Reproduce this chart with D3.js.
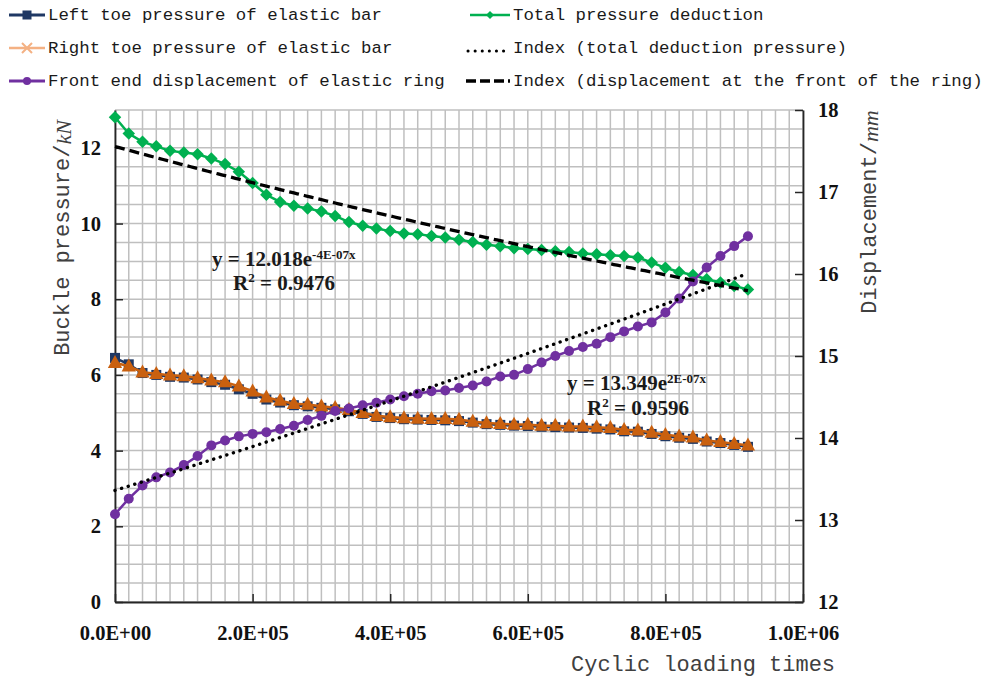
<!DOCTYPE html>
<html><head><meta charset="utf-8">
<script src="https://cdn.jsdelivr.net/npm/d3@7"></script>
<style>html,body{margin:0;padding:0;background:#fff;} svg{display:block;}</style>
</head><body>
<svg id="chart" width="983" height="681"></svg>
<script>
// ---------------- DATA ----------------
const cycles = [0,20000,40000,60000,80000,100000,120000,140000,160000,180000,
  200000,220000,240000,260000,280000,300000,320000,340000,360000,380000,
  400000,420000,440000,460000,480000,500000,520000,540000,560000,580000,
  600000,620000,640000,660000,680000,700000,720000,740000,760000,780000,
  800000,820000,840000,860000,880000,900000,920000];
const leftToe = [6.45,6.28,6.05,6.00,5.95,5.93,5.88,5.81,5.74,5.62,
  5.50,5.35,5.27,5.20,5.17,5.13,5.09,5.04,4.97,4.89,
  4.86,4.83,4.82,4.81,4.80,4.78,4.74,4.70,4.68,4.66,
  4.65,4.63,4.62,4.61,4.60,4.58,4.56,4.51,4.50,4.44,
  4.38,4.34,4.31,4.24,4.20,4.15,4.10];
const rightToe = [6.32,6.23,6.07,6.03,5.99,5.97,5.92,5.86,5.81,5.70,
  5.57,5.41,5.32,5.24,5.22,5.17,5.13,5.08,5.00,4.92,
  4.89,4.86,4.85,4.84,4.84,4.82,4.77,4.73,4.71,4.69,
  4.69,4.66,4.66,4.64,4.64,4.62,4.60,4.55,4.54,4.48,
  4.42,4.38,4.35,4.27,4.23,4.18,4.14];
const totalPressure = [12.81,12.38,12.16,12.04,11.92,11.88,11.83,11.72,11.57,11.37,
  11.07,10.76,10.57,10.47,10.40,10.32,10.20,10.04,9.94,9.87,
  9.80,9.74,9.72,9.67,9.63,9.57,9.51,9.44,9.40,9.35,
  9.33,9.30,9.27,9.25,9.21,9.19,9.16,9.14,9.10,8.97,
  8.83,8.72,8.64,8.53,8.44,8.35,8.26];
const displacement = [13.07,13.26,13.42,13.52,13.58,13.67,13.78,13.91,13.97,14.02,
  14.05,14.07,14.11,14.15,14.22,14.27,14.33,14.36,14.40,14.43,
  14.47,14.51,14.54,14.57,14.58,14.61,14.64,14.69,14.75,14.77,
  14.84,14.92,15.00,15.06,15.11,15.15,15.23,15.30,15.36,15.41,
  15.53,15.70,15.91,16.08,16.22,16.34,16.46];
const xTicks = [0,200000,400000,600000,800000,1000000];
const yLeftTicks = [0,2,4,6,8,10,12];
const yRightTicks = [12,13,14,15,16,17,18];
const legendLabels = ["Left toe pressure of elastic bar","Right toe pressure of elastic bar",
  "Front end displacement of elastic ring","Total pressure deduction",
  "Index (total deduction pressure)","Index (displacement at the front of the ring)"];
const eq1 = {main:"y = 12.018e", sup:"-4E-07x", r2:"0.9476"};
const eq2 = {main:"y = 13.349e", sup:"2E-07x", r2:"0.9596"};

// ---------------- LAYOUT ----------------
const L=115, R=803, T=110, B=602;
const svg = d3.select("#chart");
const x = d3.scaleLinear().domain([0,1000000]).range([L,R]);
const yL = d3.scaleLinear().domain([0,13]).range([B,T]);
const yR = d3.scaleLinear().domain([12,18]).range([B,T]);

const C = {navy:"#1F3864", orange:"#C9600F", orangeLight:"#F4B183", green:"#00B050", purple:"#7030A0"};
const MONO = "'Liberation Mono','DejaVu Sans Mono',monospace";
const SERIF = "'Liberation Serif','Times New Roman',serif";

// grid
const grid = svg.append("g").attr("stroke","#bfbfbf").attr("stroke-width",1.5);
grid.selectAll("line.v").data(d3.range(0,1000001,20000)).enter().append("line")
  .attr("x1",d=>x(d)).attr("x2",d=>x(d)).attr("y1",T).attr("y2",B);
grid.selectAll("line.h").data(d3.range(0,13.001,0.5)).enter().append("line")
  .attr("x1",L).attr("x2",R).attr("y1",d=>yL(d)).attr("y2",d=>yL(d));

// axes
function sci(d){ if(d===0) return "0.0E+00"; const e=Math.floor(Math.log10(d)+1e-9); const m=d/Math.pow(10,e); return m.toFixed(1)+"E+"+String(e).padStart(2,"0"); }
function styleAxis(g){
  g.selectAll(".domain").attr("stroke","#262626").attr("stroke-width",1.8);
  g.selectAll(".tick line").attr("stroke","#262626").attr("stroke-width",1.5);
  g.selectAll("text").attr("font-family",SERIF).attr("font-weight","bold").attr("font-size",20.5).attr("fill","#111");
}
svg.append("g").attr("transform",`translate(0,${B})`)
  .call(d3.axisBottom(x).tickValues(xTicks).tickFormat(sci).tickSizeInner(-8).tickSizeOuter(0).tickPadding(23))
  .call(styleAxis);
svg.append("g").attr("transform",`translate(${L},0)`)
  .call(d3.axisLeft(yL).tickValues(yLeftTicks).tickFormat(d3.format("d")).tickSizeInner(-8).tickSizeOuter(0).tickPadding(14))
  .call(styleAxis);
svg.append("g").attr("transform",`translate(${R},0)`)
  .call(d3.axisRight(yR).tickValues(yRightTicks).tickFormat(d3.format("d")).tickSizeInner(-8).tickSizeOuter(0).tickPadding(15))
  .call(styleAxis);

// axis titles
const t1 = svg.append("text").attr("transform",`translate(63,238) rotate(-90)`)
  .attr("text-anchor","middle").attr("dominant-baseline","central")
  .attr("font-family",MONO).attr("font-size",22).attr("fill","#404040");
t1.append("tspan").text("Buckle pressure/");
t1.append("tspan").attr("font-family",SERIF).attr("font-style","italic").text("kN");
const t2 = svg.append("text").attr("transform",`translate(870,212) rotate(-90)`)
  .attr("text-anchor","middle").attr("dominant-baseline","central")
  .attr("font-family",MONO).attr("font-size",22).attr("fill","#404040");
t2.append("tspan").text("Displacement/");
t2.append("tspan").attr("font-family",SERIF).attr("font-style","italic").text("mm");
svg.append("text").attr("x",571).attr("y",671).attr("font-family",MONO).attr("font-size",22)
  .attr("fill","#404040").text("Cyclic loading times");

// markers
function marker(sel, shape, color, s){
  if(shape==="square") sel.append("rect").attr("x",-s/2).attr("y",-s/2).attr("width",s).attr("height",s).attr("fill",color);
  else if(shape==="triangle") sel.append("path").attr("d",`M0,${-s*0.6} L${s*0.55},${s*0.4} L${-s*0.55},${s*0.4} Z`).attr("fill",color);
  else if(shape==="diamond") sel.append("path").attr("d",`M0,${-s/2} L${s/2},0 L0,${s/2} L${-s/2},0 Z`).attr("fill",color);
  else if(shape==="circle") sel.append("circle").attr("r",s/2).attr("fill",color);
  else if(shape==="x"){ sel.append("path").attr("d",`M${-s/2},${-s/2} L${s/2},${s/2} M${-s/2},${s/2} L${s/2},${-s/2}`).attr("stroke",color).attr("stroke-width",2); }
}
function series(vals, ys, color, shape, size){
  const g = svg.append("g");
  const pts = cycles.map((c,i)=>[x(c), ys(vals[i])]);
  g.append("path").attr("d",d3.line()(pts)).attr("fill","none").attr("stroke",color).attr("stroke-width",2.5);
  pts.forEach(p=>{ marker(g.append("g").attr("transform",`translate(${p[0]},${p[1]})`), shape, color, size); });
}
series(leftToe, yL, C.navy, "square", 10);
series(rightToe, yL, C.orange, "triangle", 13);
series(totalPressure, yL, C.green, "diamond", 12.5);
series(displacement, yR, C.purple, "circle", 10);

// exponential trend lines (least squares on ln y, as spreadsheet trendlines do)
function expFit(xs, ys){
  const ly=ys.map(Math.log);
  const mx=d3.mean(xs), my=d3.mean(ly);
  let sxy=0,sxx=0; xs.forEach((v,i)=>{sxy+=(v-mx)*(ly[i]-my); sxx+=(v-mx)*(v-mx);});
  const b=sxy/sxx; const a=Math.exp(my-b*mx); return {a,b};
}
function trend(vals, ys, dash, width, cap){
  const f = expFit(cycles, vals);
  const xs = d3.range(0, cycles[cycles.length-1]+1, 5000);
  const pts = xs.map(v=>[x(v), ys(f.a*Math.exp(f.b*v))]);
  svg.append("path").attr("d",d3.line()(pts)).attr("fill","none").attr("stroke","#000")
    .attr("stroke-width",width).attr("stroke-dasharray",dash).attr("stroke-linecap",cap);
}
trend(totalPressure, yL, "10 5", 3.3, "butt");
trend(displacement, yR, "0.1 6.8", 3.4, "round");

// equations
function equation(e, x0, y0, xr, yr){
  const t = svg.append("text").attr("x",x0).attr("y",y0).attr("font-family",SERIF).attr("font-weight","bold")
    .attr("font-size",21).attr("fill","#1a1a1a");
  t.append("tspan").text(e.main);
  t.append("tspan").attr("font-size",13).attr("dy",-7).text(e.sup);
  const r = svg.append("text").attr("x",xr).attr("y",yr).attr("font-family",SERIF).attr("font-weight","bold")
    .attr("font-size",21).attr("fill","#1a1a1a");
  r.append("tspan").text("R");
  r.append("tspan").attr("font-size",13).attr("dy",-8).text("2");
  r.append("tspan").attr("dy",8).text(" = "+e.r2);
}
equation(eq1, 212, 266, 233, 290);
equation(eq2, 567, 390, 587, 415);

// legend
const lg = svg.append("g").attr("font-family",MONO).attr("font-size",17.4).attr("fill","#1a1a1a");
const rows=[15,48,81];
function legItem(x1,x2,y,label,draw){
  const g = lg.append("g"); draw(g, x1, x2, y);
  g.append("text").attr("x",x2+3).attr("y",y).attr("dominant-baseline","central").text(label);
}
function lineSym(color, shape, size, w){
  return (g,x1,x2,y)=>{
    g.append("line").attr("x1",x1).attr("x2",x2).attr("y1",y).attr("y2",y).attr("stroke",color).attr("stroke-width",w);
    marker(g.append("g").attr("transform",`translate(${(x1+x2)/2},${y})`), shape, color, size);
  };
}
legItem(9,45,rows[0],legendLabels[0],lineSym(C.navy,"square",9,3));
legItem(9,45,rows[1],legendLabels[1],lineSym(C.orangeLight,"x",10,2.5));
legItem(9,45,rows[2],legendLabels[2],lineSym(C.purple,"circle",8,3));
legItem(470,510,rows[0],legendLabels[3],lineSym(C.green,"diamond",8,2.5));
legItem(466,510,rows[1],legendLabels[4],(g,x1,x2,y)=>{
  g.append("line").attr("x1",x1+2).attr("x2",x2).attr("y1",y+3).attr("y2",y+3).attr("stroke","#000").attr("stroke-width",3)
   .attr("stroke-dasharray","0.1 7").attr("stroke-linecap","round");
});
legItem(466,510,rows[2],legendLabels[5],(g,x1,x2,y)=>{
  g.append("line").attr("x1",x1).attr("x2",x2).attr("y1",y).attr("y2",y).attr("stroke","#000").attr("stroke-width",3.5)
   .attr("stroke-dasharray","10 4");
});
</script>
</body></html>
